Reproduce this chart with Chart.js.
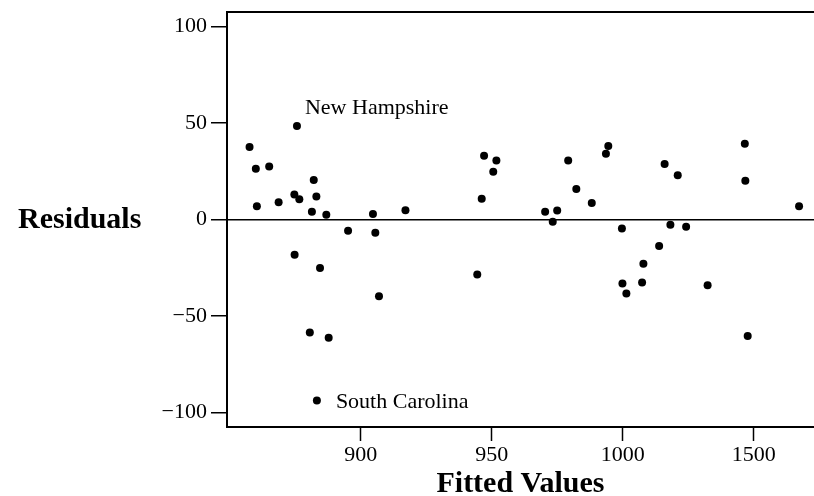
<!DOCTYPE html>
<html>
<head>
<meta charset="utf-8">
<script src="https://cdn.jsdelivr.net/npm/chart.js@4/dist/chart.umd.min.js"></script>
<style>
  html, body { margin: 0; padding: 0; background: #fff; overflow: hidden; }
  #wrap { width: 814px; height: 496px; }
</style>
</head>
<body>
<div id="wrap"><canvas id="residChart"></canvas></div>
<script>
// fitted values (the axis label "1500" sits where 1050 would be)
const fitted = [
  857.6, 860.0, 860.4, 865.1, 868.7, 875.7, 874.7, 876.6, 882.1, 883.1,
  881.4, 886.9, 895.2, 904.7, 905.6, 917.1, 947.1, 951.8, 950.6, 946.2,
  970.4, 973.3, 975.0, 979.2, 982.3, 988.2, 993.6, 994.5, 999.7, 1013.9,
  1016.0, 1018.2, 1021.0, 1024.2, 1046.6, 1046.8, 1067.3,
  874.8, 884.5, 907.0, 944.5, 880.6, 887.8, 883.3,
  1007.9, 999.9, 1001.4, 1007.4, 1032.4, 1047.7
];
const residuals = [
  37.6, 26.3, 6.9, 27.5, 8.9, 48.5, 12.9, 10.5, 20.5, 11.9,
  4.0, 2.4, -5.8, 2.9, -6.9, 4.8, 33.0, 30.6, 24.7, 10.8,
  4.0, -1.2, 4.6, 30.6, 15.8, 8.6, 34.0, 38.1, -4.6, -13.7,
  28.7, -2.7, 22.9, -3.8, 39.2, 20.1, 6.9,
  -18.2, -25.1, -39.7, -28.5, -58.6, -61.3, -93.8,
  -22.9, -33.2, -38.3, -32.7, -34.0, -60.3
];

const xTickValues = [900, 950, 1000, 1050];
const xTickLabels = ['900', '950', '1000', '1500'];
const yTickValues = [-100, -50, 0, 50, 100];
const yTickLabels = ['\u2212100', '\u221250', '0', '50', '100'];

// labelled states: which point, and the text
const labelIndex = [5, 43];
const labelText = ['New Hampshire', 'South Carolina'];

const serif = '"Liberation Serif", "DejaVu Serif", serif';
const points = fitted.map((v, i) => ({ x: v, y: residuals[i] }));

const extras = {
  id: 'extras',
  afterDraw(chart) {
    const { ctx, chartArea, scales } = chart;
    ctx.save();
    // top frame line
    ctx.strokeStyle = '#000';
    ctx.lineWidth = 2;
    ctx.beginPath();
    ctx.moveTo(chartArea.left, chartArea.top);
    ctx.lineTo(chartArea.right, chartArea.top);
    ctx.stroke();

    // horizontal y title
    ctx.fillStyle = '#000';
    ctx.font = 'bold 30px ' + serif;
    ctx.textAlign = 'left';
    ctx.textBaseline = 'middle';
    ctx.fillText('Residuals', 18, scales.y.getPixelForValue(0) + 1);

    // point labels
    ctx.font = '22px ' + serif;
    const offsets = [[8, -18], [19, 2]];
    labelIndex.forEach((idx, i) => {
      const px = scales.x.getPixelForValue(fitted[idx]);
      const py = scales.y.getPixelForValue(residuals[idx]);
      ctx.fillText(labelText[i], px + offsets[i][0], py + offsets[i][1]);
    });
    ctx.restore();
  }
};

new Chart(document.getElementById('residChart'), {
  type: 'scatter',
  data: {
    datasets: [{
      data: points,
      backgroundColor: '#000',
      borderColor: '#000',
      pointRadius: 4,
      pointHoverRadius: 4,
      borderWidth: 0,
      clip: false
    }]
  },
  options: {
    responsive: true,
    maintainAspectRatio: false,
    animation: false,
    events: [],
    layout: { autoPadding: false, padding: { top: 12, right: 0, left: 0, bottom: 0 } },
    plugins: { legend: { display: false }, tooltip: { enabled: false } },
    scales: {
      x: {
        type: 'linear',
        min: 849,
        max: 1073,
        afterBuildTicks: axis => { axis.ticks = xTickValues.map(v => ({ value: v })); },
        afterFit: axis => {
          axis.height = 69;
          axis.paddingLeft = 0;
          axis.paddingRight = 0;
        },
        ticks: {
          color: '#000',
          font: { family: serif, size: 22 },
          padding: 1,
          maxRotation: 0,
          callback: v => xTickLabels[xTickValues.indexOf(v)]
        },
        grid: { drawOnChartArea: false, tickLength: 14, tickColor: '#000', tickWidth: 1.5 },
        border: { color: '#000', width: 2 },
        title: {
          display: true,
          text: 'Fitted Values',
          color: '#000',
          font: { family: serif, size: 30, weight: 'bold', lineHeight: 1 },
          padding: { top: 0, bottom: -3 }
        }
      },
      y: {
        type: 'linear',
        min: -107.5,
        max: 107.5,
        afterBuildTicks: axis => { axis.ticks = yTickValues.map(v => ({ value: v })); },
        afterFit: axis => {
          axis.width = 227;
          axis.paddingTop = 0;
          axis.paddingBottom = 0;
        },
        ticks: {
          color: '#000',
          font: { family: serif, size: 22 },
          padding: 4,
          callback: v => yTickLabels[yTickValues.indexOf(v)]
        },
        grid: {
          drawOnChartArea: true,
          color: c => (c.tick && c.tick.value === 0 ? '#000' : 'rgba(0,0,0,0)'),
          lineWidth: 1.5,
          tickLength: 16,
          tickColor: '#000',
          tickWidth: 1.5
        },
        border: { color: '#000', width: 2 }
      }
    }
  },
  plugins: [extras]
});
</script>
</body>
</html>
